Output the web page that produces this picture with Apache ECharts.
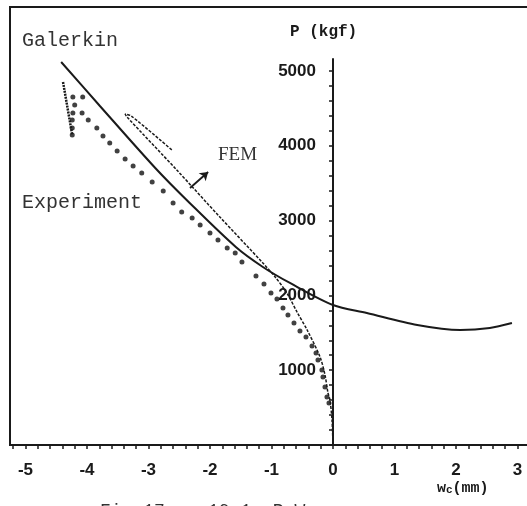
<!DOCTYPE html>
<html><head><meta charset="utf-8">
<script src="https://cdn.jsdelivr.net/npm/echarts@6/dist/echarts.min.js"></script>
<style>html,body{margin:0;padding:0;background:#fff;}#c{width:527px;height:506px;}</style>
</head><body><div id="c"></div>
<script>
// ---- data ----
const xTickLabels = [-5, -4, -3, -2, -1, 0, 1, 2, 3];
const yTickLabels = [1000, 2000, 3000, 4000, 5000];

const galerkinX = [-4.42, -3.79, -2.89, -2.33, -1.58, -1.14, -0.70, 0.00, 0.55, 1.37, 2.07, 2.55, 2.91];
const galerkinP = [5120, 4532, 3703, 3235, 2647, 2380, 2166, 1872, 1765, 1604, 1537, 1564, 1631];

const femX = [0.00, -0.016, -0.049, -0.081, -0.13, -0.21, -0.42, -0.585, -0.75, -0.94, -1.14, -1.84, -2.54, -3.35, -3.38, -3.28, -2.62];
const femP = [0, 334, 602, 695, 936, 1176, 1537, 1778, 2032, 2246, 2433, 3048, 3676, 4385, 4425, 4398, 3944];

const expX = [-0.065, -0.098, -0.13, -0.163, -0.18, -0.244, -0.276, -0.341, -0.439, -0.537, -0.634, -0.732, -0.813, -0.911, -1.008, -1.122, -1.252, -1.48, -1.59, -1.72, -1.87, -2.00, -2.16, -2.29, -2.46, -2.60, -2.76, -2.94, -3.11, -3.25, -3.38, -3.51, -3.63, -3.74, -3.84, -3.98, -4.08, -4.07, -4.23, -4.20, -4.23, -4.24, -4.24, -4.24];
const expP = [561, 642, 775, 909, 1003, 1136, 1230, 1324, 1444, 1524, 1631, 1738, 1832, 1952, 2032, 2152, 2259, 2447, 2567, 2634, 2741, 2834, 2941, 3035, 3115, 3235, 3396, 3516, 3636, 3730, 3824, 3930, 4037, 4131, 4238, 4345, 4439, 4652, 4652, 4545, 4439, 4345, 4238, 4144];

const expUnloadX = [-4.39, -4.24];
const expUnloadP = [4853, 4144];

const arrowX = [-2.325, -2.03];
const arrowP = [3436, 3650];

const xMin = -5.252, xMax = 3.22;
const yAxisTop = 5160;

// ---- build ----
const zip = (a, b) => a.map((v, i) => [v, b[i]]);
const xMinorTicks = [];
for (let i = -26; i <= 16; i++) xMinorTicks.push(Math.round(i * 2) / 10);
const yMinorTicks = [];
for (let v = 0; v <= 5000; v += 200) yMinorTicks.push(v);

const W = 527, gridLeft = 10, gridRight = -4;
const plotW = W - gridLeft - gridRight;
const zeroLeft = gridLeft + (0 - xMin) / (xMax - xMin) * plotW;

const ink = '#1a1a1a';
const labelFont = {color: ink, fontFamily: 'Liberation Sans', fontWeight: 'bold', fontSize: 17};
const chart = echarts.init(document.getElementById('c'), null, {renderer: 'canvas'});
chart.setOption({
  backgroundColor: '#fff',
  animation: false,
  grid: [
    {left: gridLeft, top: 7, right: gridRight, bottom: 61, show: true, borderColor: ink, borderWidth: 2,
      backgroundColor: 'transparent', containLabel: false, outerBoundsMode: 'none'},
    {left: gridLeft, top: 59, right: gridRight, bottom: 61, containLabel: false, outerBoundsMode: 'none'},
    {left: zeroLeft, top: 59, width: 1, bottom: 61, containLabel: false, outerBoundsMode: 'none'}
  ],
  xAxis: [
    {gridIndex: 0, type: 'value', min: 0, max: 1, show: false},
    {gridIndex: 1, type: 'value', min: xMin, max: xMax,
      splitLine: {show: false},
      axisLine: {show: true, onZero: false, lineStyle: {color: ink, width: 2}},
      axisTick: {show: true, length: 4, customValues: xMinorTicks, lineStyle: {color: ink, width: 1.5}},
      axisLabel: Object.assign({customValues: xTickLabels, margin: 17, formatter: v => String(v)}, labelFont)
    },
    {gridIndex: 2, type: 'value', min: 0, max: 1, show: false}
  ],
  yAxis: [
    {gridIndex: 0, type: 'value', min: 0, max: 1, show: false},
    {gridIndex: 1, type: 'value', min: 0, max: yAxisTop, show: false},
    {gridIndex: 2, type: 'value', min: 0, max: yAxisTop, position: 'left',
      splitLine: {show: false},
      axisLine: {show: true, onZero: false, lineStyle: {color: ink, width: 2}},
      axisTick: {show: true, length: 4, customValues: yMinorTicks, lineStyle: {color: ink, width: 1.5}},
      axisLabel: Object.assign({customValues: yTickLabels, margin: 17, formatter: v => String(v)}, labelFont)
    }
  ],
  series: [
    {name: 'Galerkin', type: 'line', xAxisIndex: 1, yAxisIndex: 1, data: zip(galerkinX, galerkinP),
      smooth: 0.3, showSymbol: false, lineStyle: {color: ink, width: 2}},
    {name: 'FEM', type: 'line', xAxisIndex: 1, yAxisIndex: 1, data: zip(femX, femP),
      smooth: 0.3, showSymbol: false, lineStyle: {color: ink, width: 1.5, type: [3, 1.5]}},
    {name: 'Experiment', type: 'scatter', xAxisIndex: 1, yAxisIndex: 1, data: zip(expX, expP),
      symbol: 'circle', symbolSize: 5, itemStyle: {color: '#111'}},
    {name: 'Experiment unloading', type: 'line', xAxisIndex: 1, yAxisIndex: 1, data: zip(expUnloadX, expUnloadP),
      showSymbol: false, lineStyle: {color: ink, width: 2.5, type: [2, 1]}},
    {name: 'FEM pointer', type: 'lines', coordinateSystem: 'cartesian2d', xAxisIndex: 1, yAxisIndex: 1,
      symbol: ['none', 'arrow'], symbolSize: 8,
      lineStyle: {color: ink, width: 1.8, opacity: 1},
      data: [{coords: zip(arrowX, arrowP)}]}
  ],
  graphic: [
    {type: 'text', x: 22, y: 31, style: {text: 'Galerkin', font: '20px "Liberation Mono"', fill: '#333', verticalAlign: 'top'}},
    {type: 'text', x: 22, y: 193, style: {text: 'Experiment', font: '20px "Liberation Mono"', fill: '#333', verticalAlign: 'top'}},
    {type: 'text', x: 218, y: 146, style: {text: 'FEM', font: '19px "Liberation Serif"', fill: '#333', verticalAlign: 'top'}},
    {type: 'text', x: 290, y: 24, style: {text: 'P (kgf)', font: 'bold 16px "Liberation Mono"', fill: ink, verticalAlign: 'top'}},
    {type: 'text', x: 437, y: 480, style: {
      text: '{w|w}{c|c}{m|(mm)}', verticalAlign: 'top',
      rich: {
        w: {font: 'bold 15px "Liberation Mono"', fill: ink},
        c: {font: 'bold 11px "Liberation Mono"', fill: ink, padding: [5, 0, 0, 0]},
        m: {font: 'bold 15px "Liberation Mono"', fill: ink}
      }}},
    {type: 'text', x: 100, y: 502, style: {text: 'Fig.17a   10-1  P-W', font: '18px "Liberation Mono"', fill: '#333', verticalAlign: 'top'}}
  ]
});
</script>
</body></html>
